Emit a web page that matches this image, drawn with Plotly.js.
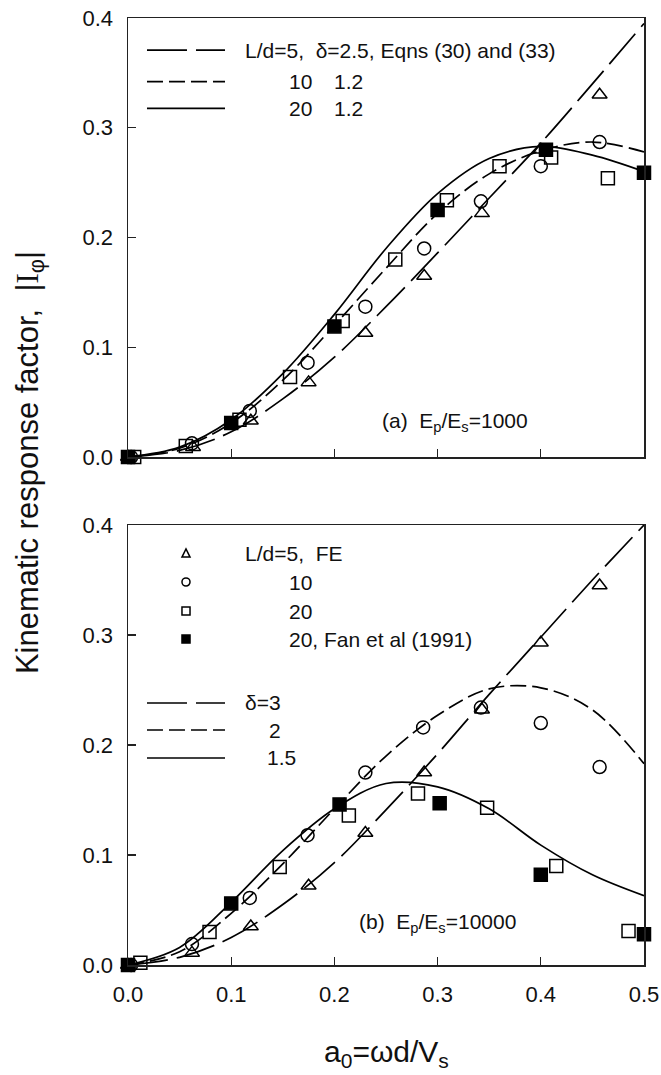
<!DOCTYPE html>
<html>
<head>
<meta charset="utf-8">
<script src="https://cdn.plot.ly/plotly-3.0.1.min.js"></script>
<style>html,body{margin:0;padding:0;background:#fff}</style>
</head>
<body>
<div id="chart" style="width:661px;height:1075px"></div>
<script>
// ---------- Panel (a): Ep/Es = 1000 ----------
const curveX = [0, 0.05, 0.1, 0.15, 0.2, 0.25, 0.3, 0.35, 0.4, 0.45, 0.5];
const eqnA_L5  = [0, 0.006, 0.023, 0.053, 0.091, 0.137, 0.186, 0.236, 0.286, 0.340, 0.395];
const eqnA_L10 = [0, 0.008, 0.031, 0.070, 0.120, 0.172, 0.222, 0.258, 0.279, 0.287, 0.278];
const eqnA_L20 = [0, 0.009, 0.034, 0.076, 0.130, 0.190, 0.240, 0.272, 0.283, 0.275, 0.260];

const feA_L5_x  = [0, 0.063, 0.119, 0.175, 0.230, 0.287, 0.343, 0.400, 0.457];
const feA_L5_y  = [0, 0.009, 0.033, 0.068, 0.113, 0.165, 0.222, 0.280, 0.330];
const feA_L10_x = [0.003, 0.062, 0.118, 0.174, 0.230, 0.287, 0.342, 0.400, 0.457];
const feA_L10_y = [0, 0.0125, 0.042, 0.086, 0.137, 0.190, 0.233, 0.265, 0.287];
const feA_L20_x = [0.006, 0.056, 0.108, 0.157, 0.208, 0.259, 0.309, 0.360, 0.410, 0.465];
const feA_L20_y = [0, 0.010, 0.034, 0.073, 0.124, 0.180, 0.234, 0.265, 0.273, 0.254];
const fanA_x    = [0, 0.100, 0.200, 0.300, 0.405, 0.500];
const fanA_y    = [0, 0.031, 0.119, 0.225, 0.280, 0.259];

// ---------- Panel (b): Ep/Es = 10000 ----------
const eqnB_d3  = [0, 0.007, 0.025, 0.055, 0.093, 0.141, 0.192, 0.246, 0.298, 0.350, 0.400];
const eqnB_d2  = [0, 0.012, 0.047, 0.092, 0.142, 0.190, 0.227, 0.251, 0.252, 0.232, 0.183];
const eqnB_d15 = [0, 0.016, 0.057, 0.104, 0.142, 0.165, 0.162, 0.142, 0.109, 0.082, 0.063];

const feB_L5_x  = [0, 0.062, 0.119, 0.175, 0.230, 0.287, 0.343, 0.400, 0.457];
const feB_L5_y  = [0, 0.011, 0.035, 0.072, 0.120, 0.175, 0.232, 0.293, 0.345];
const feB_L10_x = [0.003, 0.062, 0.118, 0.174, 0.230, 0.286, 0.342, 0.400, 0.457];
const feB_L10_y = [0, 0.019, 0.061, 0.118, 0.175, 0.216, 0.234, 0.220, 0.180];
const feB_L20_x = [0.012, 0.079, 0.147, 0.214, 0.281, 0.348, 0.415, 0.485];
const feB_L20_y = [0.002, 0.030, 0.089, 0.136, 0.156, 0.143, 0.090, 0.031];
const fanB_x    = [0, 0.100, 0.205, 0.302, 0.400, 0.500];
const fanB_y    = [0, 0.056, 0.146, 0.147, 0.082, 0.028];

const xTicks = [0, 0.1, 0.2, 0.3, 0.4, 0.5];
const yTicks = [0, 0.1, 0.2, 0.3, 0.4];

// ---------- styles ----------
const FONT = 'Liberation Sans, Arial, sans-serif';
const LONG = '40px,9px';
const MED  = '16px,6px';
const LW = 1.7;
const MS = 13;

function curve(x, y, dash, xa, ya) {
  return {x: x, y: y, xaxis: xa, yaxis: ya, type: 'scatter', mode: 'lines',
    line: {color: 'black', width: LW, dash: dash, shape: 'spline', smoothing: 1},
    showlegend: false, hoverinfo: 'skip', cliponaxis: false};
}
function pts(x, y, symbol, xa, ya) {
  return {x: x, y: y, xaxis: xa, yaxis: ya, type: 'scatter', mode: 'markers',
    marker: {symbol: symbol, size: MS, color: 'black',
      line: {color: 'black', width: 1.5}},
    showlegend: false, hoverinfo: 'skip', cliponaxis: false};
}

const data = [
  curve(curveX, eqnA_L5, LONG, 'x2', 'y2'),
  curve(curveX, eqnA_L10, MED, 'x2', 'y2'),
  curve(curveX, eqnA_L20, 'solid', 'x2', 'y2'),
  pts(feA_L5_x, feA_L5_y, 'triangle-up-open', 'x2', 'y2'),
  pts(feA_L10_x, feA_L10_y, 'circle-open', 'x2', 'y2'),
  pts(feA_L20_x, feA_L20_y, 'square-open', 'x2', 'y2'),
  pts(fanA_x, fanA_y, 'square', 'x2', 'y2'),

  curve(curveX, eqnB_d3, LONG, 'x', 'y'),
  curve(curveX, eqnB_d2, MED, 'x', 'y'),
  curve(curveX, eqnB_d15, 'solid', 'x', 'y'),
  pts(feB_L5_x, feB_L5_y, 'triangle-up-open', 'x', 'y'),
  pts(feB_L10_x, feB_L10_y, 'circle-open', 'x', 'y'),
  pts(feB_L20_x, feB_L20_y, 'square-open', 'x', 'y'),
  pts(fanB_x, fanB_y, 'square', 'x', 'y'),
];

const axisCommon = {
  showline: true, mirror: true, linecolor: '#222', linewidth: 1.5,
  ticks: 'inside', ticklen: 8, tickwidth: 1.3, tickcolor: '#222',
  showgrid: false, zeroline: false, fixedrange: true,
  tickfont: {family: FONT, size: 22, color: '#111'},
  tickformat: '.1f'
};

const layout = {
  width: 661, height: 1075,
  margin: {l: 128, r: 17, t: 18, b: 110},
  paper_bgcolor: 'white', plot_bgcolor: 'white',
  showlegend: false,
  xaxis: Object.assign({}, axisCommon, {domain: [0, 1], range: [0, 0.5], anchor: 'y',
    tickvals: xTicks, ticklabelstandoff: 9}),
  yaxis: Object.assign({}, axisCommon, {domain: [0, 0.4646], range: [0, 0.4], anchor: 'x',
    tickvals: yTicks, ticklabelstandoff: 9}),
  xaxis2: Object.assign({}, axisCommon, {domain: [0, 1], range: [0, 0.5], anchor: 'y2',
    tickvals: xTicks, showticklabels: false}),
  yaxis2: Object.assign({}, axisCommon, {domain: [0.5364, 1], range: [0, 0.4], anchor: 'x2',
    tickvals: yTicks, ticklabelstandoff: 9}),
  shapes: [],
  annotations: []
};

const TXT = {family: FONT, size: 21, color: '#111'};
function note(text, x, y, xref, yref, extra) {
  return Object.assign({text: text, x: x, y: y, xref: xref, yref: yref,
    xanchor: 'left', yanchor: 'middle', showarrow: false, font: TXT}, extra || {});
}
function legLine(y, dash, yref, xref) {
  return {type: 'line', xref: xref, yref: yref, x0: 0.0368, x1: 0.188, y0: y, y1: y,
    line: {color: 'black', width: LW, dash: dash}};
}

// Panel (a) legend
const ya = [0.927, 0.855, 0.794];
layout.shapes.push(legLine(ya[0], LONG, 'y2 domain', 'x2 domain'));
layout.shapes.push(legLine(ya[1], MED, 'y2 domain', 'x2 domain'));
layout.shapes.push(legLine(ya[2], 'solid', 'y2 domain', 'x2 domain'));
layout.annotations.push(note('L/d=5,  \u03B4=2.5, Eqns (30) and (33)', 0.2229, ya[0], 'x2 domain', 'y2 domain'));
layout.annotations.push(note('10', 0.3076, ya[1], 'x2 domain', 'y2 domain'));
layout.annotations.push(note('1.2', 0.3948, ya[1], 'x2 domain', 'y2 domain'));
layout.annotations.push(note('20', 0.3076, ya[2], 'x2 domain', 'y2 domain'));
layout.annotations.push(note('1.2', 0.3948, ya[2], 'x2 domain', 'y2 domain'));
layout.annotations.push(note('(a)  E<sub>p</sub>/E<sub>s</sub>=1000', 0.4884, 0.08, 'x2 domain', 'y2 domain'));

// Panel (b) legend: markers
const yb = [0.9364, 0.8705, 0.8045, 0.7409];
const mx = 0.1124, hw = 0.0078, hh = 0.0092;
layout.shapes.push({type: 'path', xref: 'x domain', yref: 'y domain',
  path: `M ${mx - hw} ${yb[0] - hh} L ${mx + hw} ${yb[0] - hh} L ${mx} ${yb[0] + hh} Z`,
  line: {color: 'black', width: 1.5}});
layout.shapes.push({type: 'circle', xref: 'x domain', yref: 'y domain',
  x0: mx - hw, x1: mx + hw, y0: yb[1] - hh, y1: yb[1] + hh, line: {color: 'black', width: 1.5}});
layout.shapes.push({type: 'rect', xref: 'x domain', yref: 'y domain',
  x0: mx - hw, x1: mx + hw, y0: yb[2] - hh, y1: yb[2] + hh, line: {color: 'black', width: 1.5}});
layout.shapes.push({type: 'rect', xref: 'x domain', yref: 'y domain',
  x0: mx - hw, x1: mx + hw, y0: yb[3] - hh, y1: yb[3] + hh, fillcolor: 'black',
  line: {color: 'black', width: 1.5}});
layout.annotations.push(note('L/d=5,  FE', 0.2229, yb[0], 'x domain', 'y domain'));
layout.annotations.push(note('10', 0.3081, yb[1], 'x domain', 'y domain'));
layout.annotations.push(note('20', 0.3081, yb[2], 'x domain', 'y domain'));
layout.annotations.push(note('20, Fan et al (1991)', 0.3081, yb[3], 'x domain', 'y domain'));

const yl = [0.5955, 0.5341, 0.4705];
layout.shapes.push(legLine(yl[0], LONG, 'y domain', 'x domain'));
layout.shapes.push(legLine(yl[1], MED, 'y domain', 'x domain'));
layout.shapes.push(legLine(yl[2], 'solid', 'y domain', 'x domain'));
layout.annotations.push(note('\u03B4=3', 0.2229, yl[0], 'x domain', 'y domain'));
layout.annotations.push(note('2', 0.2694, yl[1], 'x domain', 'y domain'));
layout.annotations.push(note('1.5', 0.2655, yl[2], 'x domain', 'y domain'));
layout.annotations.push(note('(b)  E<sub>p</sub>/E<sub>s</sub>=10000', 0.4432, 0.0955, 'x domain', 'y domain'));

// axis titles
layout.annotations.push({text: 'a<sub>0</sub>=\u03C9d/V<sub>s</sub>', xref: 'paper', yref: 'paper',
  x: 0.5, y: -0.093, xanchor: 'center', yanchor: 'middle', showarrow: false,
  font: {family: FONT, size: 30, color: '#111'}});
layout.annotations.push({text: 'Kinematic response factor,  |<span style="font-family:Liberation Serif">I</span><sub>\u03C6</sub>|',
  xref: 'paper', yref: 'paper', x: -0.19, y: 0.531, xanchor: 'center', yanchor: 'middle',
  textangle: -90, showarrow: false, font: {family: FONT, size: 31, color: '#111'}});

Plotly.newPlot('chart', data, layout, {staticPlot: true, displayModeBar: false});
</script>
</body>
</html>
